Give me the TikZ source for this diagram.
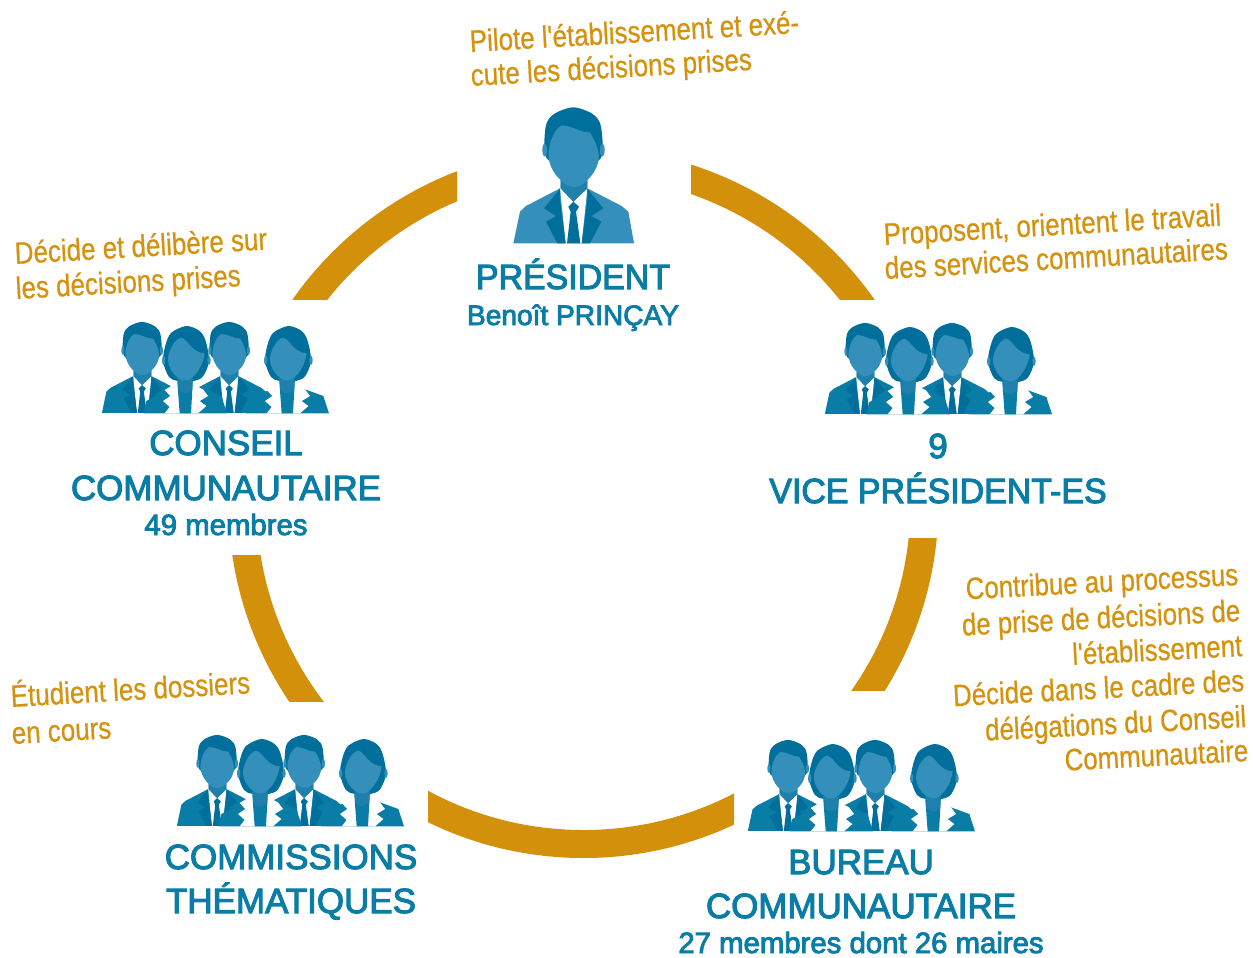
\documentclass[tikz,border=0pt]{standalone}
\usepackage{fontspec}
\newfontfamily\titreface[FakeBold=3]{Liberation Sans}
\newfontfamily\avisface[FakeStretch=0.84,FakeBold=0.6]{Liberation Sans}
\definecolor{anneaucol}{HTML}{D2900B}
\definecolor{texteor}{HTML}{D4920E}
\definecolor{textebleu}{HTML}{0A7DA6}
\definecolor{peau}{HTML}{3490BA}
\definecolor{cou}{HTML}{1F80AC}
\definecolor{cheveux}{HTML}{006F9B}
\colorlet{veste}{peau}
\colorlet{revers}{cheveux}
\tikzset{
	man/.pic={
		\fill[veste] (40,430) -- (60,335) -- (78,318) -- (180,265) -- (262,265) -- (365,318) -- (385,335) -- (402,430) -- cycle;
		\fill[white] (180,265) -- (262,265) -- (245,430) -- (197,430) -- cycle;
		\fill[revers] (180,266) -- (132,325) -- (168,348) -- (138,365) -- (172,430) -- (197,430) -- (180,300) -- cycle;
		\fill[revers] (262,266) -- (310,325) -- (274,348) -- (304,365) -- (270,430) -- (245,430) -- (262,300) -- cycle;
		\fill[revers] (220,305) -- (237,320) -- (228,335) -- (241,430) -- (201,430) -- (212,335) -- (205,320) -- cycle;
		\fill[peau] (182,225) -- (182,265) -- (220,305) -- (262,265) -- (262,225) -- cycle;
		\fill[cou] (182,240) -- (182,265) -- (220,305) -- (262,265) -- (262,240) .. controls (240,268) and (205,268) .. (182,240) -- cycle;
		\fill[cheveux] plot[smooth cycle] coordinates {(140,175) (137,80) (162,42) (220,22) (278,42) (303,80) (302,175) (222,200)};
		\fill[peau] (134,150) circle (7 and 20) (307,150) circle (7 and 20);
		\fill[peau] (145,165) .. controls (148,120) and (165,88) .. (185,76) .. controls (215,76) and (240,98) .. (270,97) .. controls (280,115) and (295,140) .. (297,170) .. controls (295,215) and (255,258) .. (222,258) .. controls (188,258) and (148,215) .. (145,165) -- cycle;
	},
	woman/.pic={
		\fill[veste] (-28,277) -- (-20,240) -- (45,205) -- (150,205) -- (205,225) -- (222,277) -- cycle;
		\fill[white] (55,195) -- (35,207) -- (52,225) -- (30,240) -- (50,258) -- (35,277) -- (135,277) -- (160,255) -- (140,240) -- (165,225) -- (150,205) -- (130,195) -- cycle;
		\fill[cheveux] plot[smooth cycle] coordinates {(100,15) (55,35) (38,70) (30,120) (48,168) (75,180) (122,180) (150,166) (168,120) (158,60) (140,30)};
		\fill[veste] (72,170) -- (80,277) -- (114,277) -- (120,170) -- cycle;
		\fill[cou] (76,170) -- (76,205) .. controls (85,220) and (108,220) .. (118,205) -- (118,170) -- cycle;
		\fill[peau] (32,118) circle (5 and 14) (168,118) circle (5 and 14);
		\fill[peau] (45,110) .. controls (50,80) and (68,52) .. (85,50) .. controls (105,55) and (115,95) .. (155,97) .. controls (152,130) and (125,178) .. (97,178) .. controls (70,178) and (42,140) .. (45,110) -- cycle;
	},
	equipe/.pic={
		\pic[scale=0.223] at (-9,-96) {man};
		\pic[scale=0.223] at (78,-96) {man};
		\pic[scale=1/3] at (51,-92) {woman};
		\pic[scale=1/3] at (153,-92) {woman};
	},
	anneau/.style={draw=anneaucol,line width=0.56cm},
	titre/.style={font=\titreface\fontsize{19.9}{24}\selectfont,text=textebleu,anchor=base,inner sep=0pt},
	soustitre/.style={font=\titreface\fontsize{16.7}{24}\selectfont,text=textebleu,anchor=base,inner sep=0pt},
	avisg/.style={font=\avisface\fontsize{17.6}{24}\selectfont,text=texteor,anchor=base west,inner sep=0pt,rotate=3.3},
	avisd/.style={font=\avisface\fontsize{17.5}{24}\selectfont,text=texteor,anchor=base east,inner sep=0pt,rotate=3},
}
\begin{document}
\begin{tikzpicture}[x=0.02cm,y=-0.02cm]
	\useasboundingbox (0,0) rectangle (1253,957);
	% anneau
	\foreach \xa/\ya/\xb/\yb in {280/150/457/299,691/150/885/299,840/538/950/690,225/555/330/701,428/780/734/870} {
		\begin{scope}
			\clip (\xa,\ya) rectangle (\xb,\yb);
			\draw[anneau] (583.5,503) circle (341);
		\end{scope}
	}
	% personnes
	\pic[scale=1/3] at (500,100) {man};
	\colorlet{veste}{textebleu}
	\colorlet{revers}{cheveux}
	\pic at (102,413) {equipe};
	\pic at (825,414) {equipe};
	\pic at (177,826) {equipe};
	\pic at (748,831) {equipe};
	% titres
	\node[titre,xscale=0.97] (president) at (573,289) {PRÉSIDENT};
	\node[soustitre,font=\titreface\fontsize{16}{24}\selectfont] (nom) at (573,325) {Benoît PRINÇAY};
	\node[titre] (conseil) at (226,455) {CONSEIL};
	\node[titre] (conseilb) at (226,500) {COMMUNAUTAIRE};
	\node[soustitre] (membres) at (226,535) {49 membres};
	\node[titre] (neuf) at (938,458) {9};
	\node[titre,xscale=0.97] (vice) at (938,503) {VICE PRÉSIDENT-ES};
	\node[titre] (commissions) at (291,869) {COMMISSIONS};
	\node[titre] (thematiques) at (291,913) {THÉMATIQUES};
	\node[titre] (bureau) at (861,874) {BUREAU};
	\node[titre] (bureaub) at (861,918) {COMMUNAUTAIRE};
	\node[soustitre] (maires) at (861,953) {27 membres dont 26 maires};
	% avis
	\node[avisg] (pilote) at (470,52) {Pilote l'établissement et exé-};
	\node[avisg] (cute) at (471,86) {cute les décisions prises};
	\node[avisg] (decide) at (15,264) {Décide et délibère sur};
	\node[avisg] (prises) at (16,299) {les décisions prises};
	\node[avisg] (proposent) at (884,245) {Proposent, orientent le travail};
	\node[avisg] (services) at (885,279) {des services communautaires};
	\node[avisg] (etudient) at (11,707) {Étudient les dossiers};
	\node[avisg] (cours) at (12,744) {en cours};
	\node[avisd] (contribue) at (1239,585) {Contribue au processus};
	\node[avisd] (prise) at (1241,621) {de prise de décisions de};
	\node[avisd] (etab) at (1243,656) {l'établissement};
	\node[avisd] (cadre) at (1245,691) {Décide dans le cadre des};
	\node[avisd] (delegations) at (1247,727) {délégations du Conseil};
	\node[avisd] (commu) at (1249,761) {Communautaire};
\end{tikzpicture}
\end{document}
